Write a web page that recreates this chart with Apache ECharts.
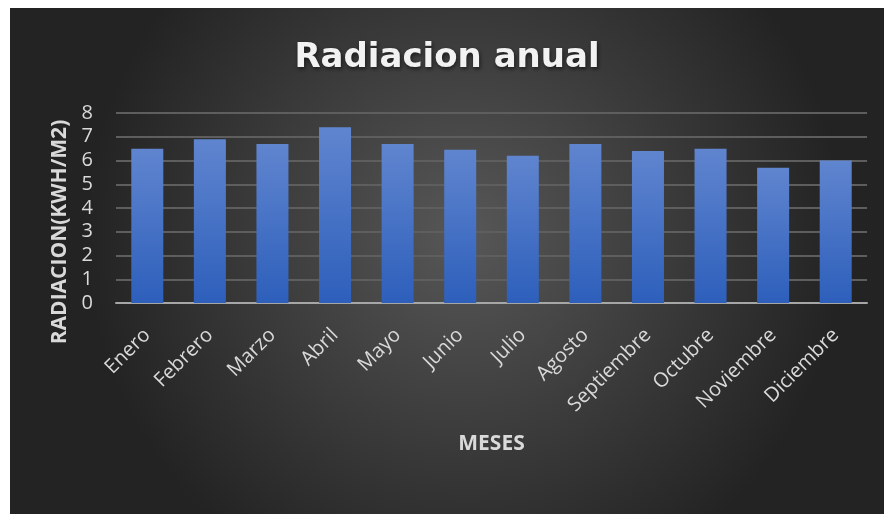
<!DOCTYPE html>
<html>
<head>
<meta charset="utf-8">
<script src="https://cdn.jsdelivr.net/npm/echarts@6/dist/echarts.min.js"></script>
<style>
  html, body { margin: 0; padding: 0; background: #ffffff; }
  #chart { position: absolute; left: 10px; top: 8px; width: 874px; height: 506px; }
</style>
</head>
<body>
<div id="chart"></div>
<script>
const meses = ["Enero", "Febrero", "Marzo", "Abril", "Mayo", "Junio", "Julio",
    "Agosto", "Septiembre", "Octubre", "Noviembre", "Diciembre"];
const radiacion = [6.5, 6.9, 6.7, 7.4, 6.7, 6.45, 6.2, 6.7, 6.4, 6.5, 5.7, 6.0];
const yTicks = [0, 1, 2, 3, 4, 5, 6, 7, 8];
const yName = "RADIACION(KWH/M2)";

const font = "'Open Sans', 'Noto Sans', sans-serif";
const chart = echarts.init(document.getElementById("chart"));

chart.setOption({
    backgroundColor: {
        type: "radial",
        x: 0.52,
        y: 0.45,
        r: 0.75,
        colorStops: [
            { offset: 0, color: "#575757" },
            { offset: 1, color: "#232323" }
        ]
    },
    title: {
        text: "Radiacion anual",
        left: "center",
        top: 28,
        textStyle: {
            color: "#f2f2f2",
            fontFamily: "'DejaVu Sans', sans-serif",
            fontSize: 34,
            fontWeight: "bold",
            textShadowColor: "rgba(0,0,0,0.6)",
            textShadowBlur: 4,
            textShadowOffsetX: 1,
            textShadowOffsetY: 2
        }
    },
    // y axis title sits a bit below the axis middle, as in the original
    graphic: [{
        type: "text",
        x: 50,
        y: 224,
        rotation: Math.PI / 2,
        style: {
            text: yName,
            fill: "#d9d9d9",
            font: "bold 21px " + font,
            align: "center",
            verticalAlign: "middle"
        }
    }],
    grid: {
        left: 106,
        right: 17,
        top: 105,
        bottom: 211,
        containLabel: false
    },
    xAxis: {
        type: "category",
        data: meses,
        name: "MESES",
        nameLocation: "middle",
        nameGap: 131,
        nameTextStyle: {
            color: "#d9d9d9",
            fontFamily: font,
            fontSize: 21,
            fontWeight: "bold"
        },
        axisTick: { show: false },
        axisLine: {
            lineStyle: { color: "#a6a6a6", width: 2 }
        },
        axisLabel: {
            rotate: 45,
            interval: 0,
            margin: 29,
            color: "#d9d9d9",
            fontFamily: font,
            fontSize: 20
        }
    },
    yAxis: {
        type: "value",
        min: yTicks[0],
        max: yTicks[yTicks.length - 1],
        interval: 1,
        axisLine: { show: false },
        axisTick: { show: false },
        splitLine: {
            lineStyle: { color: "#5e5e5e", width: 2 }
        },
        axisLabel: {
            margin: 23,
            color: "#d9d9d9",
            fontFamily: font,
            fontSize: 20
        }
    },
    series: [{
        name: "Radiacion",
        type: "bar",
        data: radiacion,
        barWidth: 32,
        itemStyle: {
            color: {
                type: "linear",
                x: 0,
                y: 0,
                x2: 0,
                y2: 1,
                colorStops: [
                    { offset: 0, color: "#6085cf" },
                    { offset: 1, color: "#2d5fbb" }
                ]
            },
            shadowColor: "rgba(0,0,0,0.55)",
            shadowBlur: 10,
            shadowOffsetX: 2,
            shadowOffsetY: 0
        }
    }]
});
</script>
</body>
</html>
